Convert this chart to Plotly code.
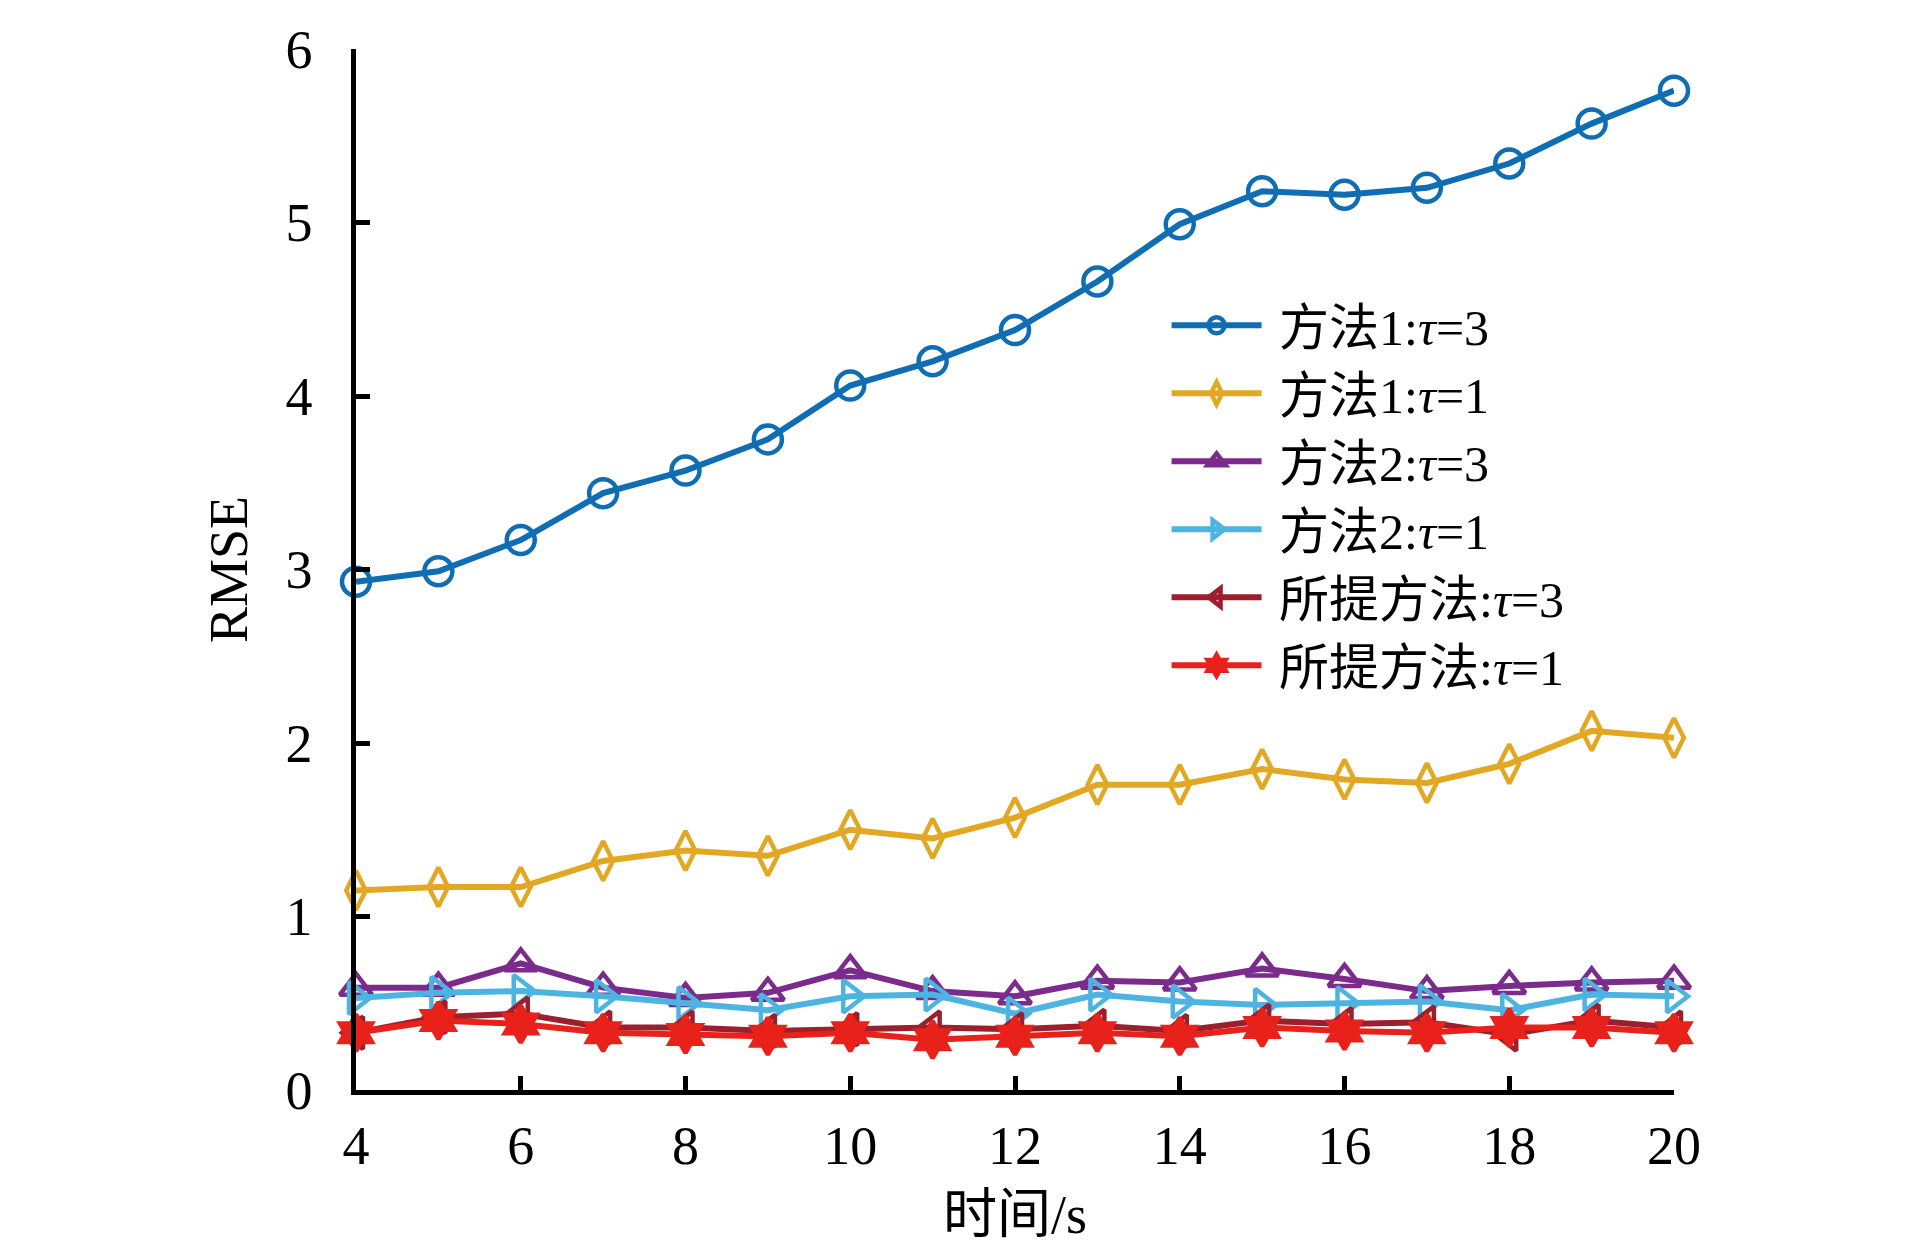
import plotly.graph_objects as go

# time steps
t = list(range(4, 21))

# RMSE values
m1_tau3 = [2.93, 2.99, 3.17, 3.44, 3.57, 3.75, 4.06, 4.20, 4.38, 4.66, 4.99, 5.18, 5.16, 5.20, 5.34, 5.57, 5.76]
m1_tau1 = [1.15, 1.17, 1.17, 1.32, 1.38, 1.35, 1.50, 1.45, 1.57, 1.76, 1.76, 1.85, 1.79, 1.77, 1.88, 2.07, 2.03]
m2_tau3 = [0.59, 0.59, 0.73, 0.59, 0.53, 0.56, 0.69, 0.57, 0.54, 0.63, 0.62, 0.70, 0.64, 0.57, 0.60, 0.62, 0.63]
m2_tau1 = [0.53, 0.56, 0.57, 0.54, 0.50, 0.46, 0.54, 0.55, 0.44, 0.55, 0.51, 0.49, 0.50, 0.51, 0.46, 0.55, 0.54]
ours_tau3 = [0.33, 0.42, 0.44, 0.36, 0.36, 0.34, 0.35, 0.36, 0.35, 0.37, 0.34, 0.40, 0.38, 0.39, 0.32, 0.40, 0.36]
ours_tau1 = [0.33, 0.40, 0.38, 0.33, 0.32, 0.31, 0.33, 0.29, 0.31, 0.33, 0.31, 0.36, 0.34, 0.33, 0.36, 0.36, 0.33]

names = ["方法1:<i>τ</i>=3", "方法1:<i>τ</i>=1", "方法2:<i>τ</i>=3",
         "方法2:<i>τ</i>=1", "所提方法:<i>τ</i>=3", "所提方法:<i>τ</i>=1"]
series = [m1_tau3, m1_tau1, m2_tau3, m2_tau1, ours_tau3, ours_tau1]
colors = ["#0f6db3", "#e3a823", "#7a2b8c", "#4db4e2", "#9c1f2e", "#e8211a"]
symbols = ["circle-open", "diamond-tall-open", "triangle-up-open",
           "triangle-right-open", "triangle-left-open", "hexagram"]

font_family = "Liberation Serif, Noto Sans CJK SC, serif"

fig = go.Figure()
for name, ys, c, sym in zip(names, series, colors, symbols):
    fig.add_trace(go.Scatter(
        x=t, y=ys, name=" " + name, mode="lines+markers",
        line=dict(color=c, width=6),
        marker=dict(symbol=sym, size=28, color=c, line=dict(color=c, width=4.5)),
        cliponaxis=False,
    ))

axis_style = dict(
    showline=True, linecolor="black", linewidth=4.5,
    ticks="inside", ticklen=14, tickwidth=4.5, tickcolor="black",
    showgrid=False, zeroline=False, mirror=False,
    tickfont=dict(family=font_family, size=54, color="black"),
)

fig.update_xaxes(range=[4, 20], tickvals=list(range(4, 21, 2)),
                 title=dict(text="时间/s", font=dict(family=font_family, size=54, color="black"), standoff=22),
                 ticklabelstandoff=4, **axis_style)
fig.update_yaxes(range=[0, 6], tickvals=list(range(0, 7)),
                 title=dict(text="RMSE", font=dict(family=font_family, size=54, color="black"), standoff=22),
                 ticklabelstandoff=28, **axis_style)

fig.update_layout(
    width=1913, height=1252,
    margin=dict(l=348, r=247, t=34, b=170),
    plot_bgcolor="white", paper_bgcolor="white",
    font=dict(family=font_family, color="black"),
    legend=dict(x=0.615, y=0.772, xanchor="left", yanchor="top",
                font=dict(family=font_family, size=50, color="black"),
                bgcolor="rgba(0,0,0,0)", itemwidth=90, tracegroupgap=0),
    showlegend=True,
)

fig.write_html("out.html")
